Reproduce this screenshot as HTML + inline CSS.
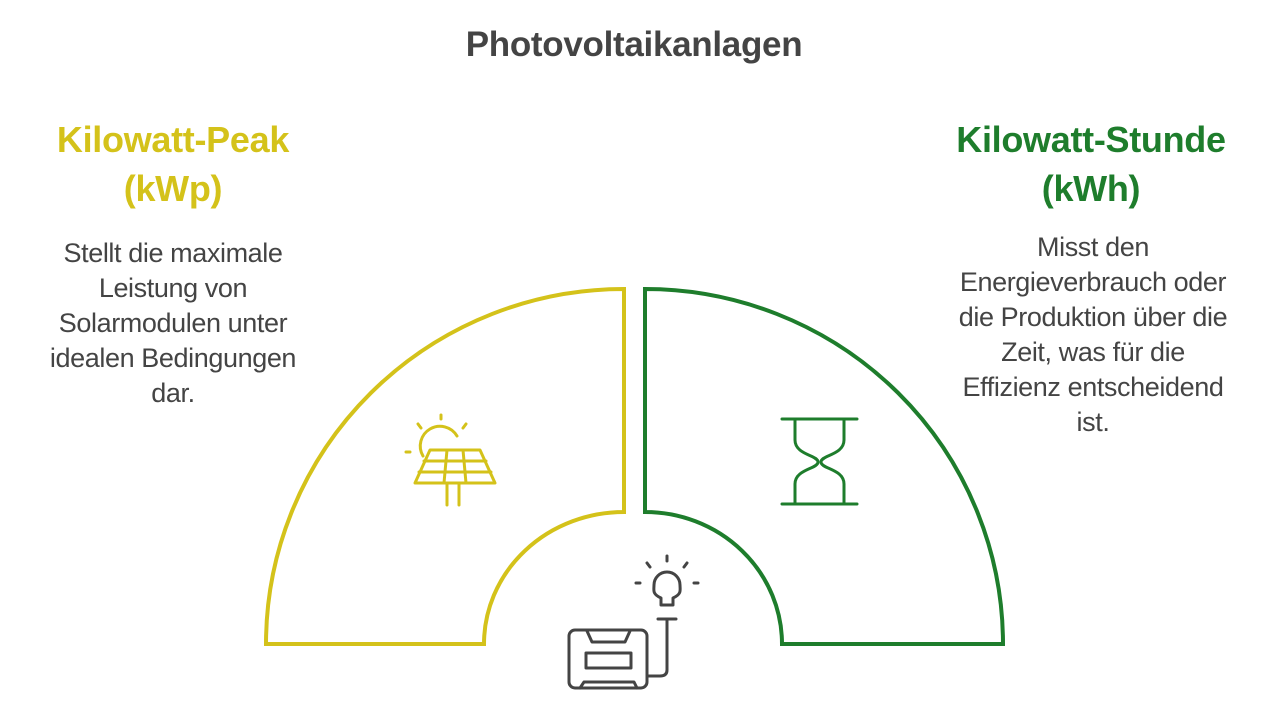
<!DOCTYPE html>
<html><head><meta charset="utf-8"><style>
body{margin:0;width:1280px;height:716px;background:#fff;font-family:"Liberation Sans",sans-serif;position:relative;overflow:hidden}
.t{position:absolute;text-align:center;white-space:nowrap}
</style></head><body>
<div class="t" style="left:0;width:1268px;top:25px;font-size:35px;font-weight:bold;color:#444;letter-spacing:-0.3px">Photovoltaikanlagen</div>
<div class="t" style="left:-27px;width:400px;top:115px;font-size:36px;line-height:49px;font-weight:bold;color:#d4c21a;letter-spacing:-0.3px">Kilowatt-Peak<br>(kWp)</div>
<div class="t" style="left:-27px;width:400px;top:236px;font-size:27px;line-height:35px;color:#444;letter-spacing:-0.4px">Stellt die maximale<br>Leistung von<br>Solarmodulen unter<br>idealen Bedingungen<br>dar.</div>
<div class="t" style="left:891px;width:400px;top:115px;font-size:36px;line-height:49px;font-weight:bold;color:#1e7d2c;letter-spacing:-0.3px">Kilowatt-Stunde<br>(kWh)</div>
<div class="t" style="left:893px;width:400px;top:230px;font-size:27px;line-height:35px;color:#444;letter-spacing:-0.4px">Misst den<br>Energieverbrauch oder<br>die Produktion über die<br>Zeit, was für die<br>Effizienz entscheidend<br>ist.</div>
<svg width="1280" height="716" style="position:absolute;left:0;top:0" fill="none" stroke-linecap="round" stroke-linejoin="round">
<path d="M624 289 L624 512 A140 132 0 0 0 484 644 L266 644 A358 355 0 0 1 624 289 Z" stroke="#d4c21a" stroke-width="4" stroke-linejoin="miter"/>
<path d="M645 289 L645 512 A137 132 0 0 1 782 644 L1003 644 A358 355 0 0 0 645 289 Z" stroke="#1e7d2c" stroke-width="4" stroke-linejoin="miter"/>
<g stroke="#d4c21a" stroke-width="3">
<path d="M423 456 A17 17 0 0 1 457 436"/>
<path d="M441 415 v4 M418 424 l3 4 M466 424 l-3 4 M406 452 h4"/>
<path d="M430 450 H480 L495 483 H415 Z M424 461 H486 M419 472 H491 M447 450 L444 483 M463 450 L466 483"/>
<path d="M447 483 V505 M459 483 V505"/>
</g>
<g stroke="#1e7d2c" stroke-width="3">
<path d="M782 419 H857 M782 504 H857"/>
<path d="M795 419 V440 C795 455 818 455 818 462 C818 469 795 469 795 484 V504 M844 419 V440 C844 455 821 455 821 462 C821 469 844 469 844 484 V504"/>
</g>
<g stroke="#444" stroke-width="3">
<path d="M661 605 V598 C652 594 654 590 654 585 A13 13 0 0 1 680 585 C680 590 682 594 673 598 V605 Z"/>
<path d="M667 556 v5 M647 563 l3 4 M687 563 l-3 4 M636 583 h4 M694 583 h4"/>
<path d="M658 619 H676 M667 619 V670 Q667 676 660 676 H648"/>
<rect x="569" y="630" width="78" height="58" rx="6"/>
<path d="M587 631 L592 642 H625 L630 631 M586 653 H631 V668 H586 Z M580 688 L584 682 H634 L637 688"/>
</g>
</svg>
</body></html>
